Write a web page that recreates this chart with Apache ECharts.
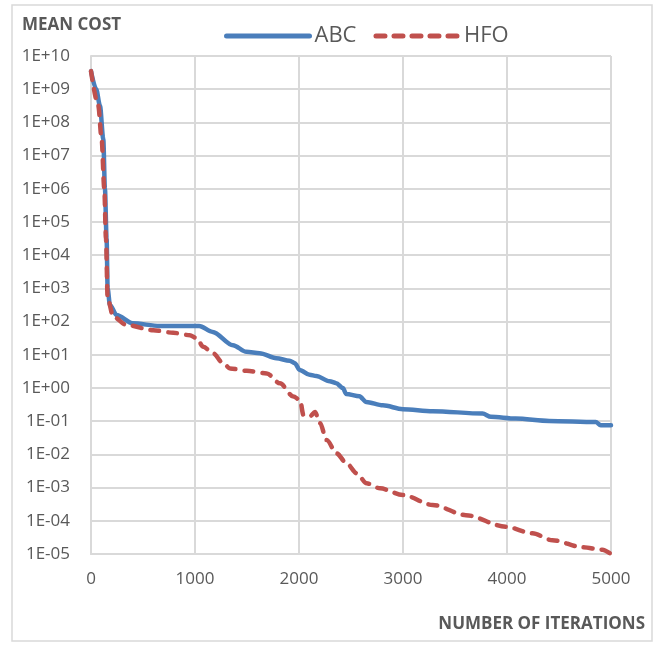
<!DOCTYPE html>
<html>
<head>
<meta charset="utf-8">
<title>Mean cost vs. iterations</title>
<script src="https://cdn.jsdelivr.net/npm/echarts@6/dist/echarts.min.js"></script>
<style>
  html, body { margin: 0; padding: 0; background: #ffffff; }
  #chart { width: 657px; height: 646px; }
</style>
</head>
<body>
<div id="chart"></div>
<script>
// Mean cost per iteration, [iteration, cost]
const abcSeries = [
  [0, 3.5e9], [50, 1e9], [86, 3.2e8], [118, 3.2e7], [134, 1e6], [150, 3.2e4],
  [160, 1000], [182, 316], [246, 158], [400, 89], [660, 74], [1040, 74],
  [1170, 49], [1365, 19.5], [1494, 12.3], [1622, 11.2], [1782, 7.9], [1910, 6.6],
  [1960, 5.6], [2006, 3.5], [2102, 2.5], [2166, 2.3], [2294, 1.6], [2358, 1.4],
  [2422, 1.0], [2454, 0.66], [2582, 0.56], [2646, 0.38], [2806, 0.30], [2998, 0.23],
  [3285, 0.20], [3765, 0.17], [3845, 0.135], [4085, 0.12], [4405, 0.102],
  [4853, 0.095], [4901, 0.076], [5000, 0.076]
];

const hfoSeries = [
  [0, 3.5e9], [70, 3.2e8], [102, 3.2e7], [128, 1e6], [144, 3.2e4], [160, 500],
  [214, 141], [342, 79], [598, 55], [790, 46], [950, 39], [1014, 32],
  [1080, 17.4], [1176, 11], [1272, 5.5], [1337, 3.9], [1497, 3.3], [1690, 2.75],
  [1817, 1.38], [1946, 0.55], [2010, 0.44], [2042, 0.155], [2106, 0.14],
  [2154, 0.19], [2202, 0.087], [2266, 0.027], [2362, 0.0107], [2458, 0.0054],
  [2554, 0.0027], [2650, 0.00135], [2779, 0.00095], [2998, 0.0006], [3285, 0.0003],
  [3605, 0.000148], [3989, 0.000066], [4245, 0.000042], [4437, 0.000026],
  [4725, 0.000016], [4917, 0.0000135], [5000, 0.00001]
];

const seriesNames = ['ABC', 'HFO'];
const xRange = [0, 5000];
const yRange = [1e-5, 1e10];
const yTitle = 'MEAN COST';
const xTitle = 'NUMBER OF ITERATIONS';

const FONT = '"Open Sans", "Liberation Sans", sans-serif';
const TEXT = '#595959';
const GRID = '#d9d9d9';

// 1E+10 style exponent labels
function sciLabel(v) {
  const e = Math.round(Math.log10(v));
  const s = e < 0 ? '-' : '+';
  const a = Math.abs(e);
  return '1E' + s + (a < 10 ? '0' + a : String(a));
}

const chart = echarts.init(document.getElementById('chart'), null, { renderer: 'canvas' });

chart.setOption({
  animation: false,
  backgroundColor: '#ffffff',
  graphic: [
    {
      type: 'rect',
      shape: { x: 12, y: 5, width: 640, height: 636 },
      style: { fill: 'none', stroke: GRID, lineWidth: 1.5 },
      silent: true
    },
    {
      type: 'text',
      left: 22,
      top: 17,
      style: { text: yTitle, fill: TEXT, font: 'bold 17px ' + FONT }
    },
    {
      type: 'text',
      right: 12,
      top: 616,
      style: { text: xTitle, fill: TEXT, font: 'bold 17px ' + FONT }
    }
  ],
  legend: {
    data: seriesNames,
    left: 219,
    top: 20,
    itemWidth: 83,
    itemHeight: 14,
    itemGap: 17,
    itemStyle: { color: 'rgba(0,0,0,0)', borderWidth: 0 },
    lineStyle: { width: 5, cap: 'round' },
    textStyle: { color: TEXT, fontSize: 22, fontFamily: FONT }
  },
  grid: { left: 91, top: 56, width: 520, height: 498, containLabel: false },
  xAxis: {
    type: 'value',
    min: xRange[0],
    max: xRange[1],
    interval: 1000,
    axisLine: { show: true, lineStyle: { color: GRID, width: 2 } },
    axisTick: { show: false },
    axisLabel: {
      color: TEXT, fontSize: 17, fontFamily: FONT, margin: 17,
      formatter: function (v) { return String(v); }
    },
    splitLine: { show: true, lineStyle: { color: GRID, width: 2 } }
  },
  yAxis: {
    type: 'log',
    logBase: 10,
    min: yRange[0],
    max: yRange[1],
    interval: 1,
    axisLine: { show: true, lineStyle: { color: GRID, width: 2 } },
    axisTick: { show: false },
    axisLabel: {
      color: TEXT, fontSize: 17, fontFamily: FONT, margin: 21,
      formatter: sciLabel
    },
    splitLine: { show: true, lineStyle: { color: GRID, width: 2 } }
  },
  series: [
    {
      name: seriesNames[0],
      type: 'line',
      data: abcSeries,
      symbol: 'none',
      smooth: 0.3,
      smoothMonotone: 'x',
      lineStyle: { color: '#4a7ebb', width: 4.5, cap: 'round', join: 'round' },
      itemStyle: { color: '#4a7ebb' }
    },
    {
      name: seriesNames[1],
      type: 'line',
      data: hfoSeries,
      symbol: 'none',
      smooth: 0.3,
      smoothMonotone: 'x',
      lineStyle: { color: '#c0504d', width: 4.5, type: [9, 9], cap: 'round', join: 'round' },
      itemStyle: { color: '#c0504d' }
    }
  ]
});
</script>
</body>
</html>
